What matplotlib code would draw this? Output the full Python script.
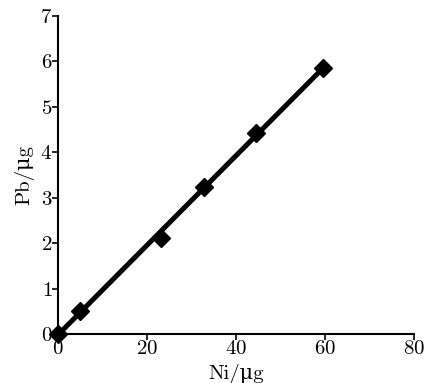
import matplotlib.pyplot as plt
import numpy as np

plt.rcParams['font.family'] = ['cmr10', 'DejaVu Serif']
plt.rcParams['axes.formatter.use_mathtext'] = True

ni = [0, 4.9, 23.1, 32.9, 44.4, 59.6]
pb = [0, 0.51, 2.12, 3.24, 4.43, 5.85]

slope, icpt = np.polyfit(ni, pb, 1)
xfit = np.array([min(ni), max(ni)])

fig = plt.figure(figsize=(4.26, 3.83), dpi=100)
ax = fig.add_axes([0.136, 0.128, 0.836, 0.83])

ax.plot(xfit, slope * xfit + icpt, color='black', linewidth=3.6, zorder=2)
ax.plot(ni, pb, linestyle='none', marker='D', markersize=9,
        color='black', zorder=3, clip_on=False)

ax.set_xlim(0, 80)
ax.set_ylim(0, 7)
ax.set_xticks([0, 20, 40, 60, 80])
ax.set_yticks(range(0, 8))
ax.spines['top'].set_visible(False)
ax.spines['right'].set_visible(False)
for s in ('left', 'bottom'):
    ax.spines[s].set_linewidth(1.5)
ax.tick_params(direction='out', length=4, width=1.2, labelsize=15, pad=0)
ax.set_xlabel('Ni/μg', fontsize=15, labelpad=5)
ax.set_ylabel('Pb/μg', fontsize=15, labelpad=4)

fig.savefig('out.png', dpi=100)
